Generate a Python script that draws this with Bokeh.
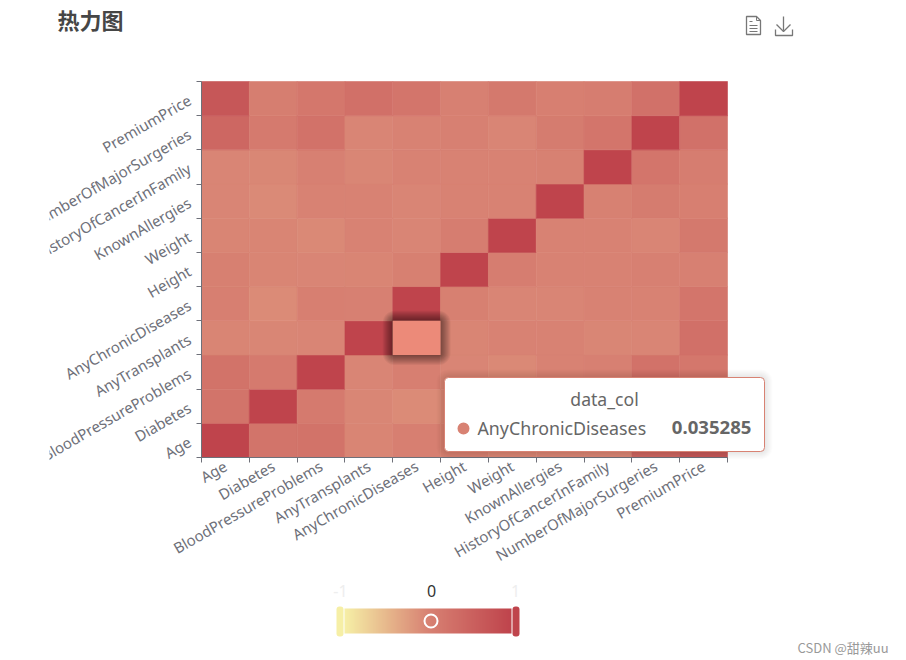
from math import pi
from bokeh.plotting import figure
from bokeh.embed import file_html
from bokeh.resources import INLINE
from bokeh.models import (Range1d, LinearAxis, FixedTicker, ColumnDataSource,
                          LinearColorMapper, ColorBar, BoxAnnotation, Label, PolyAnnotation)
from bokeh.transform import transform

categories = ["Age", "Diabetes", "BloodPressureProblems", "AnyTransplants", "AnyChronicDiseases",
              "Height", "Weight", "KnownAllergies", "HistoryOfCancerInFamily",
              "NumberOfMajorSurgeries", "PremiumPrice"]
corr_age = [1, .22, .24, -.02, .05, .04, -.02, -.03, -.03, .43, .70]
corr_diabetes = [.22, 1, .13, -.04, -.09, -.02, -.02, -.07, -.05, .13, .07]
corr_bp = [.24, .13, 1, -.03, .05, -.03, -.06, .01, .03, .25, .17]
corr_transplants = [-.02, -.04, -.03, 1, .035, -.02, .01, .00, -.04, -.03, .29]
corr_chronic = [.05, -.09, .05, .035, 1, .04, -.03, -.03, .01, .01, .21]
corr_height = [.04, -.02, -.03, -.02, .04, 1, .08, .00, .00, .03, .03]
corr_weight = [-.02, -.02, -.06, .01, -.03, .08, 1, .00, .00, -.03, .14]
corr_allergies = [-.03, -.07, .01, .00, -.03, .00, .00, 1, .02, .10, .05]
corr_history = [-.03, -.05, .03, -.04, .01, .00, .00, .02, 1, .21, .08]
corr_surgeries = [.43, .13, .25, -.03, .01, .03, -.03, .10, .21, 1, .27]
corr_premium = [.70, .07, .17, .29, .21, .03, .14, .05, .08, .27, 1]
rows = [corr_age, corr_diabetes, corr_bp, corr_transplants, corr_chronic, corr_height,
        corr_weight, corr_allergies, corr_history, corr_surgeries, corr_premium]

hover_x = "AnyChronicDiseases"
hover_y = "AnyTransplants"
hover_value = "0.035285"
stops = [(0xf6, 0xef, 0xa6), (0xd8, 0x82, 0x73), (0xbf, 0x44, 0x4c)]


def build_palette(n=255):
    out = []
    for i in range(n):
        t = i / (n - 1) * 2
        a, b = (stops[0], stops[1]) if t <= 1 else (stops[1], stops[2])
        f = t if t <= 1 else t - 1
        out.append("#%02x%02x%02x" % tuple(round(a[k] + (b[k] - a[k]) * f) for k in range(3)))
    return out


W, H = 900, 656
LEFT, RIGHT, TOP, BOTTOM = 201, 727, 81, 457
n = len(categories)
cw, ch = (RIGHT - LEFT) / n, (BOTTOM - TOP) / n

xs, ys, vs = [], [], []
for j, row in enumerate(rows):
    for i, v in enumerate(row):
        xs.append(i + 0.5)
        ys.append(j + 0.5)
        vs.append(v)
source = ColumnDataSource(dict(x=xs, y=ys, v=vs))
mapper = LinearColorMapper(palette=build_palette(), low=-1, high=1)

p = figure(width=W, height=H, x_range=Range1d(-LEFT / cw, (W - LEFT) / cw),
           y_range=Range1d(-(H - BOTTOM) / ch, BOTTOM / ch),
           output_backend="svg", toolbar_location=None, x_axis_location=None, y_axis_location=None,
           min_border_left=0, min_border_top=0, min_border_right=0, min_border_bottom=0, outline_line_color=None)
p.grid.visible = False
edges = list(range(n + 1))
centers = [i + 0.5 for i in range(n)]
overrides = {c: name for c, name in zip(centers, categories)}
AXIS = "#6e7079"

cell_fill = transform("v", mapper)
p.rect(x="x", y="y", width=1, height=1, source=source, fill_color=cell_fill, line_color=cell_fill, line_width=0.6)

for side, standoff in (("below", 2), ("left", 7)):
    p.add_layout(LinearAxis(ticker=FixedTicker(ticks=centers, minor_ticks=edges), major_label_overrides=overrides,
                            fixed_location=0, bounds=(0, n), axis_line_color=AXIS, major_tick_line_color=None,
                            minor_tick_line_color=AXIS, minor_tick_in=0, minor_tick_out=5,
                            major_tick_in=0, major_tick_out=5,
                            major_label_orientation=pi / 6, major_label_text_color=AXIS,
                            major_label_text_font="Noto Sans", major_label_text_font_size="15px",
                            major_label_standoff=standoff), side)


def box(l, r, t, b, **kw):
    a = BoxAnnotation(left=l, right=r, top=t, bottom=b, left_units="canvas", right_units="canvas",
                      top_units="canvas", bottom_units="canvas", **kw)
    p.add_layout(a)
    return a


def label(x, y, text, size, color, align="left", bold=False, font="Noto Sans", base="middle"):
    p.add_layout(Label(x=x, y=y, x_units="canvas", y_units="canvas", text=text, text_font=font,
                       text_font_size=size, text_color=color, text_align=align, text_baseline=base,
                       text_font_style="bold" if bold else "normal"))


def poly(pts, color="#666666", width=1.3):
    p.add_layout(PolyAnnotation(xs=[a for a, _ in pts], ys=[b for _, b in pts], xs_units="canvas",
                                ys_units="canvas", fill_alpha=0, line_color=color, line_width=width, line_alpha=1))


# highlighted cell with soft shadow
hx, hy = categories.index(hover_x), categories.index(hover_y)
for i in range(10, 0, -1):
    p.add_layout(BoxAnnotation(left=hx - i / cw, right=hx + 1 + i / cw, bottom=hy - i / ch, top=hy + 1 + i / ch,
                               fill_color="#000000", fill_alpha=0.05, line_color=None, border_radius=i + 2))
p.add_layout(BoxAnnotation(left=hx, right=hx + 1, bottom=hy, top=hy + 1, fill_color="#ec8a79", fill_alpha=1,
                           line_color=None))

# mask for cropped labels at left
box(0, 49, 0, H, fill_color="white", fill_alpha=1, line_color=None, level="overlay")

# tooltip
for i in range(8, 0, -1):
    box(444 - i, 764 + i, 377 - i, 451 + i, fill_color="#000000", fill_alpha=0.012, line_color=None,
        border_radius=4 + i)
box(444, 764, 377, 451, fill_color="white", fill_alpha=1, line_color="#d88273", line_alpha=1, line_width=1,
    border_radius=4)
label(604, 398, "data_col", "17.6px", "#666666", "center")
box(457, 469, 422, 434, fill_color="#d88273", fill_alpha=1, line_color=None, border_radius=6)
label(477, 427, hover_x, "17.8px", "#666666")
label(751, 427, hover_value, "18.6px", "#666666", "right", True)

# title, toolbox
label(57, 18, "热力图", "22px", "#464646", bold=True, font="Noto Sans CJK SC")
poly([(746, 16), (756, 16), (760, 20), (760, 34), (746, 34)], color="#777777")
poly([(756, 16), (756, 20), (760, 20)], color="#777777", width=1)
for yy, x2 in ((21, 752), (25, 757), (28, 757), (31, 757)):
    poly([(749, yy), (x2, yy)], color="#777777", width=1)
poly([(783, 16), (783, 30)], color="#777777")
poly([(776, 24), (783, 31), (790, 24), (783, 31)], color="#777777")
poly([(775, 29), (775, 35), (792, 35), (792, 29), (792, 35), (775, 35)], color="#777777")

# visual map
cbar = ColorBar(color_mapper=mapper, orientation="horizontal", width=167, height=25, padding=0, margin=0,
                location=(344, H - 633), ticker=FixedTicker(ticks=[]), major_tick_line_color=None,
                minor_tick_line_color=None, bar_line_color=None, background_fill_alpha=0, border_line_color=None)
p.add_layout(cbar)
box(336, 343, 606, 636, fill_color="#f6efa6", fill_alpha=1, line_color=None, border_radius=3)
box(512, 519, 606, 636, fill_color="#bf444c", fill_alpha=1, line_color=None, border_radius=3)
box(424, 437, 614, 627, fill_alpha=0, line_color="white", line_alpha=1, line_width=2, border_radius=7)
label(340, 590, "-1", "16px", "#eeeeee", "center")
label(431, 590, "0", "16px", "#333333", "center")
label(515, 590, "1", "16px", "#eeeeee", "center")

label(797, 647, "CSDN @甜辣uu", "13px", "#999999", font="Noto Sans CJK SC")

open("out.html", "w").write(file_html(p, INLINE))
